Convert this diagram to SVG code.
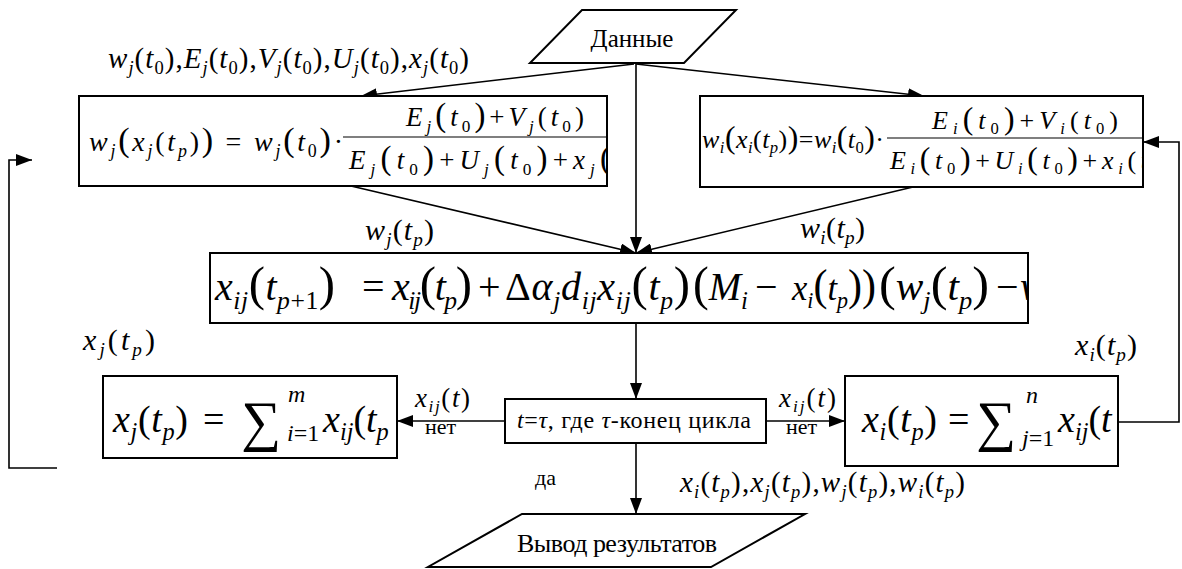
<svg xmlns="http://www.w3.org/2000/svg" width="1182" height="569" viewBox="0 0 1182 569">
<style>
.t{font-family:"Liberation Serif","Times New Roman",serif;fill:#000}
.i{font-style:italic}
.s{font-size:0.64em}
.b{font-size:1.22em}
.box{fill:#fff;stroke:#000;stroke-width:2}
.ln{fill:none;stroke:#000;stroke-width:1.6}
.fl{stroke:#000;stroke-width:1.2}
</style>
<defs>
<marker id="ar" markerUnits="userSpaceOnUse" viewBox="0 0 16 12" refX="16" refY="6" markerWidth="16" markerHeight="12" orient="auto">
<path d="M0,0 L16,6 L0,12 z" fill="#000"/>
</marker>
<clipPath id="cL"><rect x="80" y="97" width="526" height="88"/></clipPath>
<clipPath id="cR"><rect x="701" y="97" width="441" height="89"/></clipPath>
<clipPath id="cB"><rect x="211" y="254" width="816" height="68"/></clipPath>
<clipPath id="cSL"><rect x="104" y="377" width="292" height="80"/></clipPath>
<clipPath id="cSR"><rect x="846" y="377" width="271" height="88"/></clipPath>
</defs>

<g id="connectors">
<line class="ln" x1="634" y1="64" x2="361" y2="96" marker-end="url(#ar)"/>
<line class="ln" x1="636" y1="64" x2="924" y2="96" marker-end="url(#ar)"/>
<line class="ln" x1="636" y1="63" x2="636" y2="253" marker-end="url(#ar)"/>
<line class="ln" x1="351" y1="186" x2="636" y2="253" marker-end="url(#ar)"/>
<line class="ln" x1="913" y1="187" x2="636" y2="253" marker-end="url(#ar)"/>
<line class="ln" x1="636" y1="323" x2="636" y2="399" marker-end="url(#ar)"/>
<line class="ln" x1="505" y1="421" x2="397" y2="421" marker-end="url(#ar)"/>
<line class="ln" x1="766" y1="421" x2="845" y2="421" marker-end="url(#ar)"/>
<polyline class="ln" points="1118,422 1179,422 1179,142 1143,142" marker-end="url(#ar)"/>
<polyline class="ln" points="57,468 9,468 9,160 32,160" marker-end="url(#ar)"/>
<line class="ln" x1="636" y1="443" x2="636" y2="514" marker-end="url(#ar)"/>
</g>

<g id="labels">
<text class="t" font-size="29" x="108" y="68" textLength="361"><tspan class="i">w</tspan><tspan class="i s" dy="6">j</tspan><tspan dy="-6">(</tspan><tspan class="i">t</tspan><tspan class="s" dy="6">0</tspan><tspan dy="-6">),</tspan><tspan class="i">E</tspan><tspan class="i s" dy="6">j</tspan><tspan dy="-6">(</tspan><tspan class="i">t</tspan><tspan class="s" dy="6">0</tspan><tspan dy="-6">),</tspan><tspan class="i">V</tspan><tspan class="i s" dy="6">j</tspan><tspan dy="-6">(</tspan><tspan class="i">t</tspan><tspan class="s" dy="6">0</tspan><tspan dy="-6">),</tspan><tspan class="i">U</tspan><tspan class="i s" dy="6">j</tspan><tspan dy="-6">(</tspan><tspan class="i">t</tspan><tspan class="s" dy="6">0</tspan><tspan dy="-6">),</tspan><tspan class="i">x</tspan><tspan class="i s" dy="6">j</tspan><tspan dy="-6">(</tspan><tspan class="i">t</tspan><tspan class="s" dy="6">0</tspan><tspan dy="-6">)</tspan></text>
<text class="t" font-size="30" x="365" y="240" textLength="69"><tspan class="i">w</tspan><tspan class="i s" dy="6">j</tspan><tspan dy="-6">(</tspan><tspan class="i">t</tspan><tspan class="i s" dy="6">p</tspan><tspan dy="-6">)</tspan></text>
<text class="t" font-size="30" x="800" y="238" textLength="65"><tspan class="i">w</tspan><tspan class="i s" dy="6">i</tspan><tspan dy="-6">(</tspan><tspan class="i">t</tspan><tspan class="i s" dy="6">p</tspan><tspan dy="-6">)</tspan></text>
<text class="t" font-size="30" x="83" y="350" textLength="72"><tspan class="i">x</tspan><tspan class="i s" dy="6">j</tspan><tspan dy="-6">(</tspan><tspan class="i">t</tspan><tspan class="i s" dy="6">p</tspan><tspan dy="-6">)</tspan></text>
<text class="t" font-size="30" x="1075" y="355" textLength="62"><tspan class="i">x</tspan><tspan class="i s" dy="6">i</tspan><tspan dy="-6">(</tspan><tspan class="i">t</tspan><tspan class="i s" dy="6">p</tspan><tspan dy="-6">)</tspan></text>
<text class="t" font-size="27" x="415" y="407" textLength="55"><tspan class="i">x</tspan><tspan class="i s" dy="5">ij</tspan><tspan dy="-5">(</tspan><tspan class="i">t</tspan><tspan>)</tspan></text>
<text class="t" font-size="22" x="425" y="434">нет</text>
<text class="t" font-size="27" x="779" y="407" textLength="57"><tspan class="i">x</tspan><tspan class="i s" dy="5">ij</tspan><tspan dy="-5">(</tspan><tspan class="i">t</tspan><tspan>)</tspan></text>
<text class="t" font-size="22" x="786" y="434">нет</text>
<text class="t" font-size="22" x="535" y="485">да</text>
<text class="t" font-size="29" x="680" y="492" textLength="285"><tspan class="i">x</tspan><tspan class="i s" dy="6">i</tspan><tspan dy="-6">(</tspan><tspan class="i">t</tspan><tspan class="i s" dy="6">p</tspan><tspan dy="-6">),</tspan><tspan class="i">x</tspan><tspan class="i s" dy="6">j</tspan><tspan dy="-6">(</tspan><tspan class="i">t</tspan><tspan class="i s" dy="6">p</tspan><tspan dy="-6">),</tspan><tspan class="i">w</tspan><tspan class="i s" dy="6">j</tspan><tspan dy="-6">(</tspan><tspan class="i">t</tspan><tspan class="i s" dy="6">p</tspan><tspan dy="-6">),</tspan><tspan class="i">w</tspan><tspan class="i s" dy="6">i</tspan><tspan dy="-6">(</tspan><tspan class="i">t</tspan><tspan class="i s" dy="6">p</tspan><tspan dy="-6">)</tspan></text>
</g>

<g id="data">
<polygon class="box" points="582,10 736,10 684,63 530,63"/>
<text class="t" font-size="25" x="632" y="47" text-anchor="middle">Данные</text>
</g>

<g id="left-weight">
<rect class="box" x="79" y="96" width="528" height="90"/>
<g clip-path="url(#cL)">
<text class="t" font-size="28" x="89" y="151" textLength="254"><tspan class="i">w</tspan><tspan class="i s" dy="6">j</tspan><tspan class="b" dy="-6">(</tspan><tspan class="i">x</tspan><tspan class="i s" dy="6">j</tspan><tspan dy="-6">(</tspan><tspan class="i">t</tspan><tspan class="i s" dy="6">p</tspan><tspan dy="-6">)</tspan><tspan class="b">)</tspan><tspan> = </tspan><tspan class="i">w</tspan><tspan class="i s" dy="6">j</tspan><tspan class="b" dy="-6">(</tspan><tspan class="i">t</tspan><tspan class="s" dy="6">0</tspan><tspan class="b" dy="-6">)</tspan><tspan>·</tspan></text>
<line class="fl" x1="343" y1="137" x2="607" y2="137"/>
<text class="t" font-size="27" x="406" y="126" textLength="178"><tspan class="i">E</tspan><tspan class="i s" dy="6">j</tspan><tspan class="b" dy="-6">(</tspan><tspan class="i">t</tspan><tspan class="s" dy="6">0</tspan><tspan class="b" dy="-6">)</tspan><tspan>+</tspan><tspan class="i">V</tspan><tspan class="i s" dy="6">j</tspan><tspan dy="-6">(</tspan><tspan class="i">t</tspan><tspan class="s" dy="6">0</tspan><tspan dy="-6">)</tspan></text>
<text class="t" font-size="27" x="349" y="169" textLength="262"><tspan class="i">E</tspan><tspan class="i s" dy="6">j</tspan><tspan class="b" dy="-6">(</tspan><tspan class="i">t</tspan><tspan class="s" dy="6">0</tspan><tspan class="b" dy="-6">)</tspan><tspan>+</tspan><tspan class="i">U</tspan><tspan class="i s" dy="6">j</tspan><tspan class="b" dy="-6">(</tspan><tspan class="i">t</tspan><tspan class="s" dy="6">0</tspan><tspan class="b" dy="-6">)</tspan><tspan>+</tspan><tspan class="i">x</tspan><tspan class="i s" dy="6">j</tspan><tspan class="b" dy="-6">(</tspan></text>
</g>
</g>

<g id="right-weight">
<rect class="box" x="700" y="96" width="443" height="91"/>
<g clip-path="url(#cR)">
<text class="t" font-size="26" x="702" y="148" textLength="182"><tspan class="i">w</tspan><tspan class="i s" dy="5">i</tspan><tspan class="b" dy="-5">(</tspan><tspan class="i">x</tspan><tspan class="i s" dy="5">i</tspan><tspan dy="-5">(</tspan><tspan class="i">t</tspan><tspan class="i s" dy="5">p</tspan><tspan dy="-5">)</tspan><tspan class="b">)</tspan><tspan>=</tspan><tspan class="i">w</tspan><tspan class="i s" dy="5">i</tspan><tspan class="b" dy="-5">(</tspan><tspan class="i">t</tspan><tspan class="s" dy="5">0</tspan><tspan class="b" dy="-5">)</tspan><tspan>·</tspan></text>
<line class="fl" x1="887" y1="138" x2="1143" y2="138"/>
<text class="t" font-size="26" x="932" y="129" textLength="186"><tspan class="i">E</tspan><tspan class="i s" dy="5">i</tspan><tspan class="b" dy="-5">(</tspan><tspan class="i">t</tspan><tspan class="s" dy="5">0</tspan><tspan class="b" dy="-5">)</tspan><tspan>+</tspan><tspan class="i">V</tspan><tspan class="i s" dy="5">i</tspan><tspan dy="-5">(</tspan><tspan class="i">t</tspan><tspan class="s" dy="5">0</tspan><tspan dy="-5">)</tspan></text>
<text class="t" font-size="26" x="890" y="169" textLength="258"><tspan class="i">E</tspan><tspan class="i s" dy="5">i</tspan><tspan class="b" dy="-5">(</tspan><tspan class="i">t</tspan><tspan class="s" dy="5">0</tspan><tspan class="b" dy="-5">)</tspan><tspan>+</tspan><tspan class="i">U</tspan><tspan class="i s" dy="5">i</tspan><tspan class="b" dy="-5">(</tspan><tspan class="i">t</tspan><tspan class="s" dy="5">0</tspan><tspan class="b" dy="-5">)</tspan><tspan>+</tspan><tspan class="i">x</tspan><tspan class="i s" dy="5">i</tspan><tspan dy="-5">(</tspan><tspan class="i">t</tspan></text>
</g>
</g>

<g id="update">
<rect class="box" x="210" y="253" width="818" height="70"/>
<g clip-path="url(#cB)" font-size="40">
<text class="t" x="215" y="300" textLength="120"><tspan class="i">x</tspan><tspan class="i s" dy="9">ij</tspan><tspan class="b" dy="-9">(</tspan><tspan class="i">t</tspan><tspan class="i s" dy="9">p</tspan><tspan class="s">+1</tspan><tspan class="b" dy="-9">)</tspan></text>
<text class="t" x="362" y="300">=</text>
<text class="t" x="392" y="300" textLength="80"><tspan class="i">x</tspan><tspan class="i s" dy="9">ij</tspan><tspan class="b" dy="-9">(</tspan><tspan class="i">t</tspan><tspan class="i s" dy="9">p</tspan><tspan class="b" dy="-9">)</tspan></text>
<text class="t" x="478" y="300">+</text>
<text class="t" x="505" y="300" textLength="185"><tspan>Δ</tspan><tspan class="i">α</tspan><tspan class="i s" dy="9">j</tspan><tspan class="i" dy="-9">d</tspan><tspan class="i s" dy="9">ij</tspan><tspan class="i" dy="-9">x</tspan><tspan class="i s" dy="9">ij</tspan><tspan class="b" dy="-9">(</tspan><tspan class="i">t</tspan><tspan class="i s" dy="9">p</tspan><tspan class="b" dy="-9">)</tspan></text>
<text class="t" x="693" y="300" textLength="55" lengthAdjust="spacingAndGlyphs"><tspan class="b">(</tspan><tspan class="i">M</tspan><tspan class="i s" dy="9">i</tspan></text>
<text class="t" x="755" y="300">−</text>
<text class="t" x="792" y="300" font-size="36" textLength="84" lengthAdjust="spacingAndGlyphs"><tspan class="i">x</tspan><tspan class="i s" dy="8">i</tspan><tspan class="b" dy="-8">(</tspan><tspan class="i">t</tspan><tspan class="i s" dy="8">p</tspan><tspan class="b" dy="-8">))</tspan></text>
<text class="t" x="879" y="300" textLength="110" lengthAdjust="spacingAndGlyphs"><tspan class="b">(</tspan><tspan class="i">w</tspan><tspan class="i s" dy="9">j</tspan><tspan class="b" dy="-9">(</tspan><tspan class="i">t</tspan><tspan class="i s" dy="9">p</tspan><tspan class="b" dy="-9">)</tspan></text>
<text class="t" x="996" y="300">−</text>
<text class="t i" x="1020" y="300">w</text>
</g>
</g>

<g id="decision">
<rect class="box" x="505" y="399" width="261" height="44"/>
<text class="t" font-size="24" x="517" y="428" textLength="234"><tspan class="i">t</tspan>=<tspan class="i">τ</tspan>, где <tspan class="i">τ</tspan>-конец цикла</text>
</g>

<g id="sum-j">
<rect class="box" x="103" y="376" width="294" height="82"/>
<g clip-path="url(#cSL)">
<text class="t" font-size="38" x="113" y="432" textLength="75"><tspan class="i">x</tspan><tspan class="i s" dy="8">j</tspan><tspan dy="-8">(</tspan><tspan class="i">t</tspan><tspan class="i s" dy="8">p</tspan><tspan dy="-8">)</tspan></text>
<text class="t" font-size="38" x="203" y="432">=</text>
<text class="t" font-size="56" x="241" y="440">∑</text>
<text class="t i" font-size="24" x="288" y="402">m</text>
<text class="t" font-size="24" x="287" y="441"><tspan class="i">i</tspan>=1</text>
<text class="t" font-size="38" x="323" y="432"><tspan class="i">x</tspan><tspan class="i s" dy="8">ij</tspan><tspan dy="-8">(</tspan><tspan class="i">t</tspan><tspan class="i s" dy="8">p</tspan></text>
</g>
</g>

<g id="sum-i">
<rect class="box" x="845" y="376" width="273" height="90"/>
<g clip-path="url(#cSR)">
<text class="t" font-size="38" x="862" y="432" textLength="75"><tspan class="i">x</tspan><tspan class="i s" dy="8">i</tspan><tspan dy="-8">(</tspan><tspan class="i">t</tspan><tspan class="i s" dy="8">p</tspan><tspan dy="-8">)</tspan></text>
<text class="t" font-size="38" x="948" y="432">=</text>
<text class="t" font-size="56" x="976" y="440">∑</text>
<text class="t i" font-size="24" x="1026" y="403">n</text>
<text class="t" font-size="24" x="1022" y="446"><tspan class="i">j</tspan>=1</text>
<text class="t" font-size="38" x="1058" y="432"><tspan class="i">x</tspan><tspan class="i s" dy="8">ij</tspan><tspan dy="-8">(</tspan><tspan class="i">t</tspan></text>
</g>
</g>

<g id="output">
<polygon class="box" points="522,514 805,514 711,567 428,567"/>
<text class="t" font-size="26" x="517" y="552" textLength="200">Вывод результатов</text>
</g>
</svg>
